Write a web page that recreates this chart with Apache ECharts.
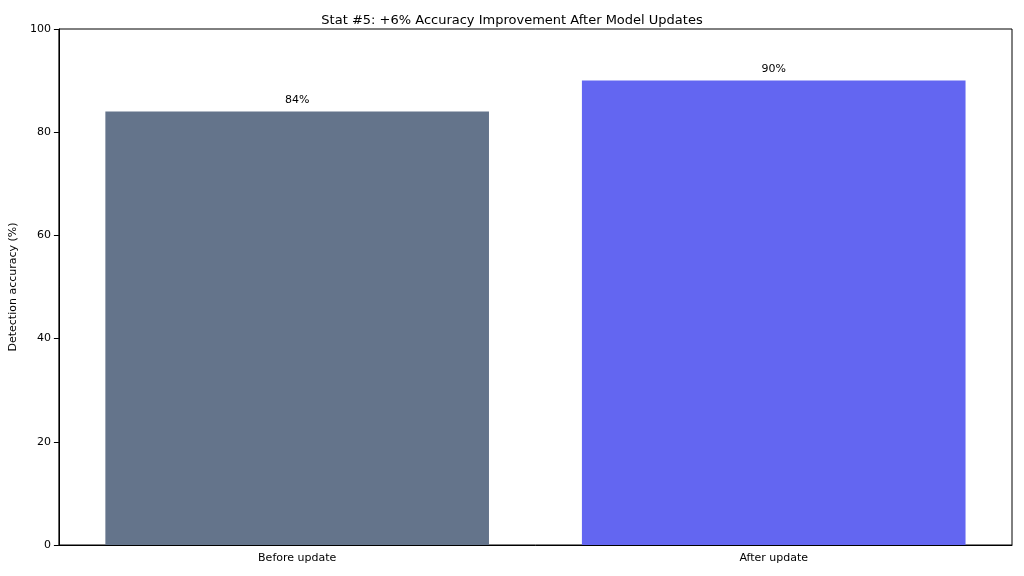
<!DOCTYPE html>
<html><head><meta charset="utf-8">
<script src="https://cdn.jsdelivr.net/npm/echarts@6/dist/echarts.min.js"></script>
<style>html,body{margin:0;padding:0;background:#fff}#c{width:1024px;height:576px}</style>
</head><body><div id="c"></div>
<script>
const categories = ["Before update", "After update"];
const values = [84, 90];
const colors = ["#64748b", "#6366f1"];
const yTicks = [0, 20, 40, 60, 80, 100];
const chart = echarts.init(document.getElementById('c'));
chart.setOption({
  animation: false,
  title: { text: "Stat #5: +6% Accuracy Improvement After Model Updates", left: 'center', top: 9,
    textStyle: { fontFamily: 'DejaVu Sans', fontSize: 13, fontWeight: 'normal', color: '#000' } },
  grid: { left: 55, right: 12, top: 29, bottom: 31, show: true, borderColor: '#000', borderWidth: 1 },
  xAxis: { type: 'category', data: categories,
    axisLine: { lineStyle: { color: '#000' } },
    axisTick: { alignWithLabel: true, lineStyle: { color: '#000' } },
    axisLabel: { color: '#000', fontFamily: 'DejaVu Sans', fontSize: 11, margin: 8 } },
  yAxis: { type: 'value', min: 0, max: 100, interval: 20,
    name: 'Detection accuracy (%)', nameLocation: 'middle', nameGap: 36,
    nameTextStyle: { color: '#000', fontFamily: 'DejaVu Sans', fontSize: 11 },
    axisLine: { show: true, lineStyle: { color: '#000' } },
    axisTick: { show: true, lineStyle: { color: '#000' } },
    splitLine: { show: false },
    axisLabel: { color: '#000', fontFamily: 'DejaVu Sans', fontSize: 11,
      formatter: v => yTicks.includes(v) ? String(v) : '' } },
  series: [{ type: 'bar', barWidth: '80.5%',
    data: values.map((v, i) => ({ value: v, itemStyle: { color: colors[i] } })),
    label: { show: true, position: 'top', distance: 6, formatter: p => p.value + '%',
      color: '#000', fontFamily: 'DejaVu Sans', fontSize: 11 } }]
});
</script></body></html>
